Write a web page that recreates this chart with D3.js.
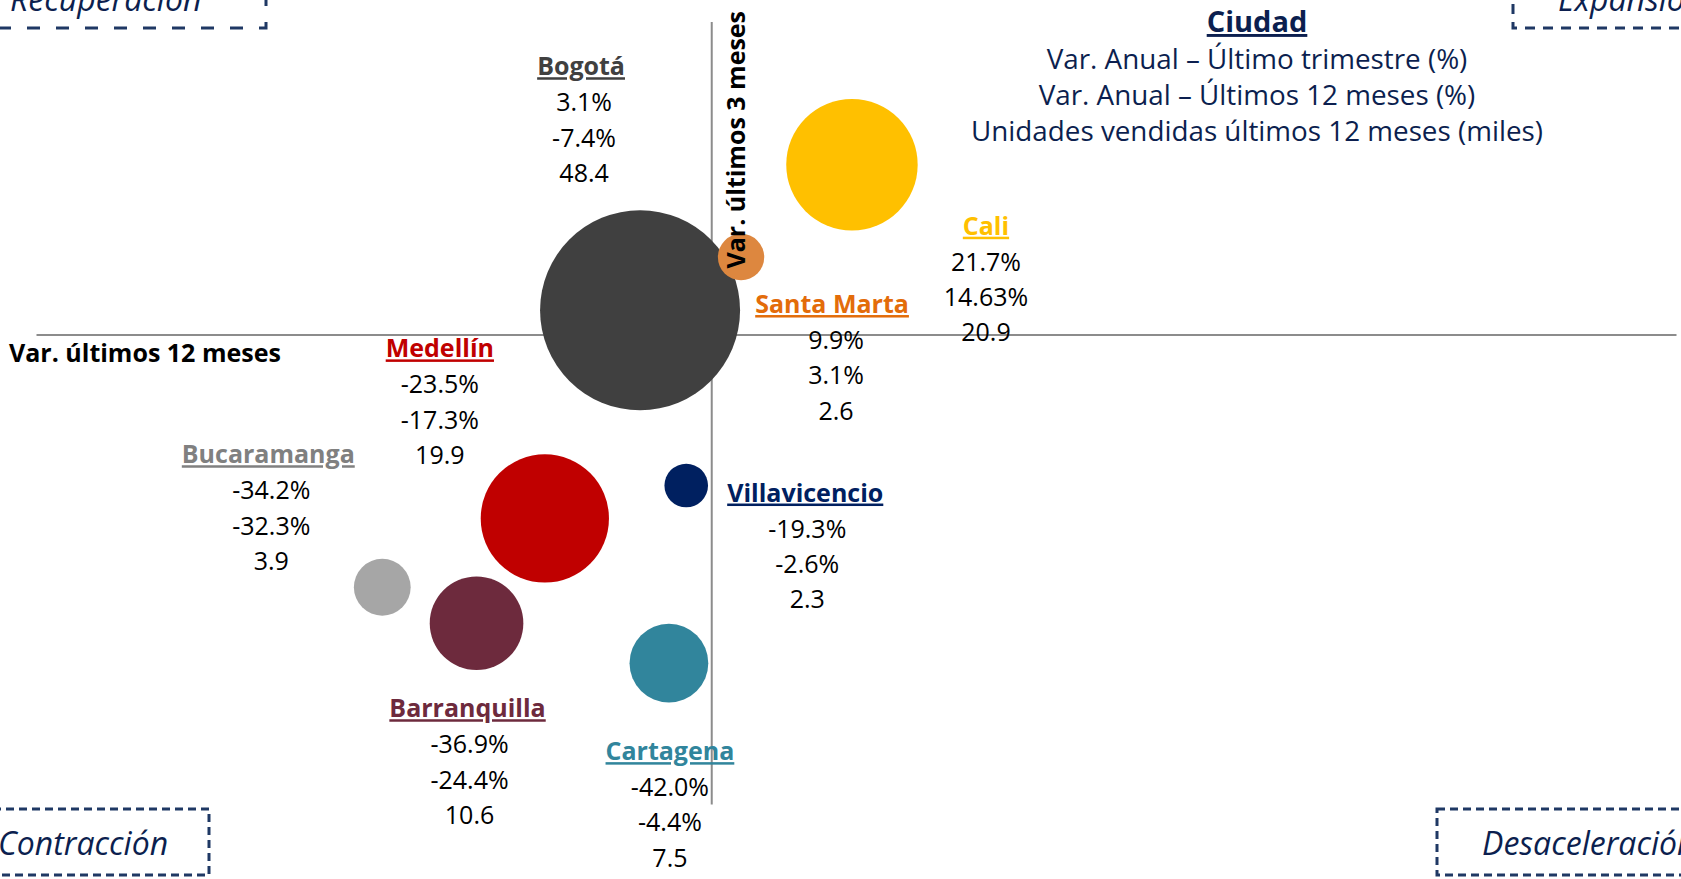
<!DOCTYPE html>
<html>
<head>
<meta charset="utf-8">
<script src="https://d3js.org/d3.v7.min.js"></script>
<style>
body { margin: 0; background: #fff; }
svg { display: block; font-family: "Open Sans", sans-serif; }

.axis path { stroke: #8c8c8c; stroke-width: 2; }
.axis line, .axis text { display: none; }

.quad rect { fill: none; stroke: #1f3864; stroke-width: 3; }
.quad text { fill: #0c1f4f; font-style: italic; font-size: 32px; }

.lbl text { font-size: 25px; fill: #000; text-anchor: middle; }
.lbl .name { font-weight: bold; text-decoration: underline; }

.title { font-size: 25px; font-weight: bold; fill: #000; }
.legend text { fill: #0c1f4f; text-anchor: middle; font-size: 27.8px; }
</style>
</head>
<body>
<svg width="1681" height="879"></svg>
<script>

var cities = ["Bogotá", "Cali", "Santa Marta", "Medellín", "Bucaramanga", "Villavicencio", "Barranquilla", "Cartagena"];
// bubble position: x = var. últimos 12 meses, y = var. último trimestre (%)
var var12m = [-7.4, 14.63, 3.1, -17.3, -34.2, -2.6, -24.4, -4.4];
var var3m  = [3.1, 21.7, 9.9, -23.5, -32.3, -19.3, -36.9, -42.0];
// unidades vendidas últimos 12 meses (miles)
var units  = [48.4, 20.9, 2.6, 19.9, 3.9, 2.3, 10.6, 7.5];
// texts as printed in the labels (Bucaramanga shows its two values swapped)
var lblTrim  = ["3.1%", "21.7%", "9.9%", "-23.5%", "-34.2%", "-19.3%", "-36.9%", "-42.0%"];
var lblAnual = ["-7.4%", "14.63%", "3.1%", "-17.3%", "-32.3%", "-2.6%", "-24.4%", "-4.4%"];
var lblUnits = ["48.4", "20.9", "2.6", "19.9", "3.9", "2.3", "10.6", "7.5"];

var quadNames = ["Recuperación", "Expansión", "Contracción", "Desaceleración"];
var legendLines = ["Var. Anual – Último trimestre (%)", "Var. Anual – Últimos 12 meses (%)", "Unidades vendidas últimos 12 meses (miles)"];

// styling / layout
var bubbleColors = ["#404040", "#ffc000", "#dd873f", "#c00000", "#a6a6a6", "#002060", "#6d2a3d", "#31859c"];
var nameColors   = ["#404040", "#ffc000", "#e36c0a", "#c00000", "#808080", "#002060", "#6d2a3d", "#31859c"];
// name position relative to bubble centre, plus a small shift for the value lines
var labelOffset  = [[-59, -235], [134, 70], [91, 56], [-105, -161], [-114, -124], [119, 16], [-9, 94], [1, 97]];
var valueShift   = [3, 0, 4, 0, 3, 2, 2, 0];

var data = cities.map(function(c, i) {
  return { city: c, x: var12m[i], y: var3m[i], u: units[i],
           lines: [lblTrim[i], lblAnual[i], lblUnits[i]],
           color: bubbleColors[i], nameColor: nameColors[i],
           off: labelOffset[i], vdx: valueShift[i] };
});

var svg = d3.select("svg"),
    width = +svg.attr("width"),
    height = +svg.attr("height");

var x = d3.scaleLinear().domain([-70.2, 100.3]).range([36, 1676]);
var y = d3.scaleLinear().domain([-60, 40]).range([804, 21.5]);
var r = d3.scaleSqrt().domain([0, d3.max(units)]).range([0, 100]);

// axes crossing at zero, only the domain line is kept
svg.append("g")
    .attr("class", "axis")
    .attr("transform", "translate(0," + y(0) + ")")
    .call(d3.axisBottom(x).ticks(0).tickSizeOuter(0));

svg.append("g")
    .attr("class", "axis")
    .attr("transform", "translate(" + x(0) + ",0)")
    .call(d3.axisLeft(y).ticks(0).tickSizeOuter(0));

// quadrant boxes
var quads = [
  { box: [-20, -40, 286, 68],  tx: 10,   ty: 11,  dash: "13,16" },
  { box: [1513, -40, 220, 68], tx: 1558, ty: 11,  dash: "10,8" },
  { box: [-20, 809, 229, 66],  tx: -2,   ty: 855, dash: "8,5" },
  { box: [1437, 809, 300, 66], tx: 1482, ty: 855, dash: "8,5" }
];
var q = svg.append("g").attr("class", "quad")
  .selectAll("g")
  .data(quads)
  .enter().append("g");
q.append("rect")
  .attr("x", function(d) { return d.box[0]; })
  .attr("y", function(d) { return d.box[1]; })
  .attr("width", function(d) { return d.box[2]; })
  .attr("height", function(d) { return d.box[3]; })
  .attr("stroke-dasharray", function(d) { return d.dash; });
q.append("text")
  .attr("x", function(d) { return d.tx; })
  .attr("y", function(d) { return d.ty; })
  .text(function(d, i) { return quadNames[i]; });

// bubbles
svg.append("g")
  .selectAll("circle")
  .data(data)
  .enter().append("circle")
  .attr("cx", function(d) { return x(d.x); })
  .attr("cy", function(d) { return y(d.y); })
  .attr("r", function(d) { return r(d.u); })
  .attr("fill", function(d) { return d.color; });

// axis titles
svg.append("text")
  .attr("class", "title")
  .attr("x", 9)
  .attr("y", y(0) + 27)
  .text("Var. últimos 12 meses");

svg.append("text")
  .attr("class", "title")
  .attr("transform", "translate(" + (x(0) + 34) + "," + (y(0) - 66) + ") rotate(-90)")
  .text("Var. últimos 3 meses");

// city labels
var lbl = svg.append("g").attr("class", "lbl")
  .selectAll("g")
  .data(data)
  .enter().append("g")
  .attr("transform", function(d) {
    return "translate(" + (x(d.x) + d.off[0]) + "," + (y(d.y) + d.off[1]) + ")";
  });

lbl.append("text")
  .attr("class", "name")
  .style("fill", function(d) { return d.nameColor; })
  .text(function(d) { return d.city; });

lbl.each(function(c) {
  d3.select(this).selectAll("text.val")
    .data(c.lines)
    .enter().append("text")
    .attr("class", "val")
    .attr("x", c.vdx)
    .attr("y", function(d, i) { return 36 + i * 35.3; })
    .text(function(d) { return d; });
});

// legend
var lg = svg.append("g").attr("class", "legend").attr("transform", "translate(1257,0)");
lg.append("text")
  .attr("y", 32)
  .style("font-weight", "bold")
  .style("font-size", "29px")
  .style("text-decoration", "underline")
  .text("Ciudad");
lg.selectAll("text.line")
  .data(legendLines)
  .enter().append("text")
  .attr("class", "line")
  .attr("y", function(d, i) { return 69 + i * 36; })
  .text(function(d) { return d; });

</script>
</body>
</html>
